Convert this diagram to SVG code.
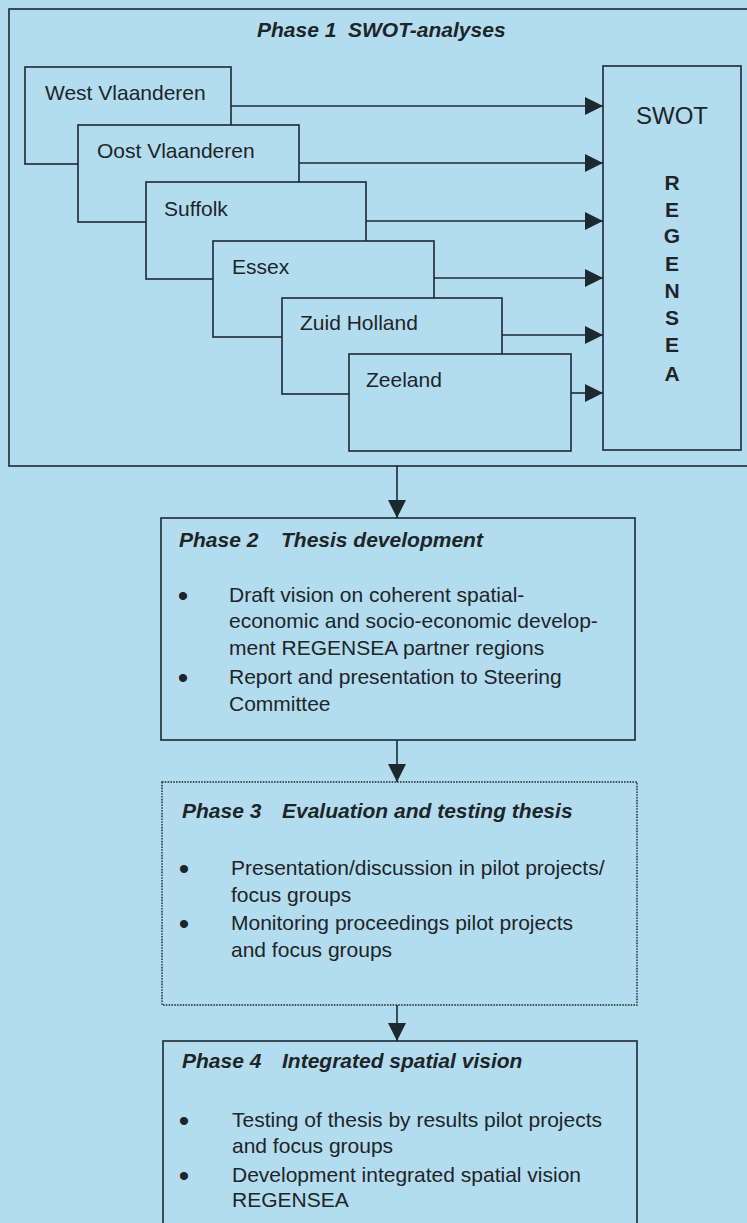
<svg xmlns="http://www.w3.org/2000/svg" width="747" height="1223" viewBox="0 0 747 1223">
<style>
.bg{fill:#b4dcef}
.box{fill:#b4dcef;stroke:#1c2a30;stroke-width:1.6}
.dot{fill:none;stroke:#1c2a30;stroke-width:1.4;stroke-dasharray:1.6 1.2}
.con{fill:none;stroke:#1c2a30;stroke-width:1.6}
.t{font-family:"Liberation Sans",Arial,sans-serif;font-size:21px;fill:#1c2528}
.b{font-family:"Liberation Sans",Arial,sans-serif;font-size:30px;fill:#1c2528;text-anchor:middle}
.h{font-family:"Liberation Sans",Arial,sans-serif;font-size:21px;font-weight:bold;font-style:italic;fill:#1c2528}
.sw{font-family:"Liberation Sans",Arial,sans-serif;font-size:24px;fill:#1c2528;text-anchor:middle}
.lt{font-family:"Liberation Sans",Arial,sans-serif;font-size:21px;font-weight:bold;fill:#1c2528;text-anchor:middle}
</style>
<defs>
<marker id="ah" markerUnits="userSpaceOnUse" markerWidth="18" markerHeight="18" viewBox="0 0 18 18" refX="18" refY="9" orient="auto">
<path d="M0,0 L18,9 L0,18 Z" fill="#1c2a30"/>
</marker>
</defs>
<rect class="bg" x="0" y="0" width="747" height="1223"/>

<g id="phase1">
<rect class="box" x="9" y="9" width="745" height="457"/>
<text class="h" x="257" y="37">Phase 1</text>
<text class="h" x="348" y="37">SWOT-analyses</text>
</g>

<g id="west-vlaanderen">
<rect class="box" x="25" y="67" width="206" height="97"/>
<text class="t" x="45" y="100">West Vlaanderen</text>
</g>
<g id="oost-vlaanderen">
<rect class="box" x="78" y="125" width="221" height="97"/>
<text class="t" x="97" y="158">Oost Vlaanderen</text>
</g>
<g id="suffolk">
<rect class="box" x="146" y="182" width="220" height="97"/>
<text class="t" x="164" y="216">Suffolk</text>
</g>
<g id="essex">
<rect class="box" x="213" y="241" width="221" height="96"/>
<text class="t" x="232" y="274">Essex</text>
</g>
<g id="zuid-holland">
<rect class="box" x="282" y="298" width="220" height="96"/>
<text class="t" x="300" y="330">Zuid Holland</text>
</g>
<g id="zeeland">
<rect class="box" x="349" y="354" width="222" height="97"/>
<text class="t" x="366" y="387">Zeeland</text>
</g>

<g id="swot-regensea">
<rect class="box" x="603" y="66" width="138" height="384"/>
<text class="sw" x="672" y="124">SWOT</text>
<text class="lt" x="672" y="190">R</text>
<text class="lt" x="672" y="217">E</text>
<text class="lt" x="672" y="243">G</text>
<text class="lt" x="672" y="271">E</text>
<text class="lt" x="672" y="298">N</text>
<text class="lt" x="672" y="325">S</text>
<text class="lt" x="672" y="352">E</text>
<text class="lt" x="672" y="381">A</text>
</g>

<g id="phase2">
<rect class="box" x="161" y="518" width="474" height="222"/>
<text class="h" x="179" y="547">Phase 2</text>
<text class="h" x="281" y="547">Thesis development</text>
<text class="b" x="183" y="606">•</text>
<text class="t" x="229" y="602">Draft vision on coherent spatial-</text>
<text class="t" x="229" y="628">economic and socio-economic develop-</text>
<text class="t" x="229" y="655">ment REGENSEA partner regions</text>
<text class="b" x="183" y="688">•</text>
<text class="t" x="229" y="684">Report and presentation to Steering</text>
<text class="t" x="229" y="711">Committee</text>
</g>

<g id="phase3">
<rect class="dot" x="162" y="782" width="475" height="223"/>
<text class="h" x="182" y="818">Phase 3</text>
<text class="h" x="282" y="818">Evaluation and testing thesis</text>
<text class="b" x="184" y="879">•</text>
<text class="t" x="231" y="875">Presentation/discussion in pilot projects/</text>
<text class="t" x="231" y="902">focus groups</text>
<text class="b" x="184" y="934">•</text>
<text class="t" x="231" y="930">Monitoring proceedings pilot projects</text>
<text class="t" x="231" y="957">and focus groups</text>
</g>

<g id="phase4">
<rect class="box" x="163" y="1041" width="474" height="200"/>
<text class="h" x="182" y="1068">Phase 4</text>
<text class="h" x="282" y="1068">Integrated spatial vision</text>
<text class="b" x="184" y="1131">•</text>
<text class="t" x="232" y="1127">Testing of thesis by results pilot projects</text>
<text class="t" x="232" y="1153">and focus groups</text>
<text class="b" x="184" y="1186">•</text>
<text class="t" x="232" y="1182">Development integrated spatial vision</text>
<text class="t" x="232" y="1207">REGENSEA</text>
</g>

<g id="connectors">
<line class="con" x1="231" y1="106" x2="603" y2="106" marker-end="url(#ah)"/>
<line class="con" x1="299" y1="163" x2="603" y2="163" marker-end="url(#ah)"/>
<line class="con" x1="366" y1="221" x2="603" y2="221" marker-end="url(#ah)"/>
<line class="con" x1="434" y1="278" x2="603" y2="278" marker-end="url(#ah)"/>
<line class="con" x1="502" y1="335" x2="603" y2="335" marker-end="url(#ah)"/>
<line class="con" x1="571" y1="393" x2="603" y2="393" marker-end="url(#ah)"/>
<line class="con" x1="397" y1="466" x2="397" y2="518" marker-end="url(#ah)"/>
<line class="con" x1="397" y1="740" x2="397" y2="782" marker-end="url(#ah)"/>
<line class="con" x1="397" y1="1005" x2="397" y2="1041" marker-end="url(#ah)"/>
</g>
</svg>
